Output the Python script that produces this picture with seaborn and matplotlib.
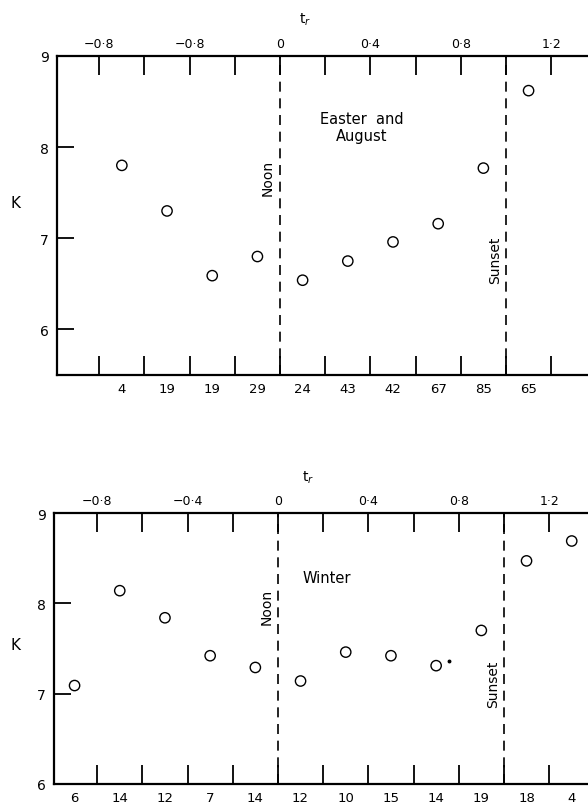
import matplotlib
matplotlib.use("Agg")
import matplotlib.pyplot as plt
import seaborn as sns
import pandas as pd

# --- data ---
# Easter and August
tr_summer = [-0.7, -0.5, -0.3, -0.1, 0.1, 0.3, 0.5, 0.7, 0.9, 1.1]
k_summer = [7.80, 7.30, 6.59, 6.80, 6.54, 6.75, 6.96, 7.16, 7.77, 8.62]
n_summer = ["4", "19", "19", "29", "24", "43", "42", "67", "85", "65"]

# Winter
tr_winter = [-0.9, -0.7, -0.5, -0.3, -0.1, 0.1, 0.3, 0.5, 0.7, 0.9, 1.1, 1.3]
k_winter = [7.09, 8.14, 7.84, 7.42, 7.29, 7.14, 7.46, 7.42, 7.31, 7.70, 8.47, 8.69]
n_winter = ["6", "14", "12", "7", "14", "12", "10", "15", "14", "19", "18", "4"]

grid_ticks = [-0.8, -0.6, -0.4, -0.2, 0.0, 0.2, 0.4, 0.6, 0.8, 1.0, 1.2]
top_labels_summer = ["\u22120\u00b78", "", "\u22120\u00b78", "", "0", "", "0\u00b74", "", "0\u00b78", "", "1\u00b72"]
top_labels_winter = ["\u22120\u00b78", "", "\u22120\u00b74", "", "0", "", "0\u00b74", "", "0\u00b78", "", "1\u00b72"]

NOON, SUNSET = 0.0, 1.0

sns.set_style("ticks")
plt.rcParams['font.family'] = ['DejaVu Sans']
plt.rcParams.update({'text.color': 'black', 'xtick.color': 'black', 'ytick.color': 'black',
                     'axes.edgecolor': 'black', 'xtick.labelcolor': 'black',
                     'ytick.labelcolor': 'black'})

fig = plt.figure(figsize=(5.88, 8.04), dpi=100)
W, H = 588.0, 804.0


def panel(rect, xlim, ylim, yticks, tr, k, counts, top_labels, title, title_xy, title_kw):
    ax = fig.add_axes(rect)
    df = pd.DataFrame({"tr": tr, "K": k})
    sns.scatterplot(data=df, x="tr", y="K", ax=ax, marker="o", s=55,
                    facecolor="none", edgecolor="black", linewidth=1.0)
    ax.set_xlim(*xlim)
    ax.set_ylim(*ylim)

    ax.axvline(NOON, color="black", ls=(0, (6, 4)), lw=1.2)
    ax.axvline(SUNSET, color="black", ls=(0, (6, 4)), lw=1.2)

    ax.set_xticks(grid_ticks, labels=top_labels)
    ax.set_xticks(tr, labels=counts, minor=True)
    ax.tick_params(axis="x", which="major", direction="in", length=14, width=1.3,
                   top=True, bottom=True, labeltop=True, labelbottom=False,
                   labelsize=9, pad=4)
    ax.tick_params(axis="x", which="minor", length=0, top=False, bottom=True,
                   labelbottom=True, labeltop=False, labelsize=9.5, pad=5)
    ax.set_yticks(yticks, labels=[str(v) for v in yticks])
    ax.tick_params(axis="y", direction="in", length=12, width=1.3, labelsize=10, pad=6)

    for side in ["left", "top", "bottom"]:
        ax.spines[side].set_linewidth(1.6)
    ax.spines["right"].set_visible(False)

    ax.set_xlabel("")
    ax.set_ylabel("")
    ax.text(title_xy[0], title_xy[1], title, fontsize=10.5, **title_kw)
    return ax


# top panel: Easter and August
ax1 = panel([57 / W, (H - 376) / H, 531 / W, 319 / H], (-0.987, 1.363), (5.5, 9.0),
            [6, 7, 8, 9], tr_summer, k_summer, n_summer, top_labels_summer,
            "Easter  and\nAugust", (0.36, 8.22),
            dict(ha="center", va="center", linespacing=1.1))
ax1.text(-0.053, 7.67, "Noon", rotation=90, ha="center", va="center", fontsize=10)
ax1.text(0.95, 6.77, "Sunset", rotation=90, ha="center", va="center", fontsize=10)

# bottom panel: Winter
ax2 = panel([54 / W, (H - 785) / H, 534 / W, 271 / H], (-0.991, 1.372), (6.0, 9.0),
            [6, 7, 8, 9], tr_winter, k_winter, n_winter, top_labels_winter,
            "Winter", (0.11, 8.29), dict(ha="left", va="center"))
ax2.plot([0.757], [7.36], marker="o", markersize=1.8, color="black", ls="none")
ax2.text(-0.05, 7.97, "Noon", rotation=90, ha="center", va="center", fontsize=10)
ax2.text(0.95, 7.11, "Sunset", rotation=90, ha="center", va="center", fontsize=10)

# axis labels
fig.text(16 / W, 1 - 203 / H, "K", fontsize=11, ha="center", va="center")
fig.text(16 / W, 1 - 645 / H, "K", fontsize=11, ha="center", va="center")
fig.text(305 / W, 1 - 20 / H, "t$_r$", fontsize=10, ha="center", va="center")
fig.text(308 / W, 1 - 478 / H, "t$_r$", fontsize=10, ha="center", va="center")

fig.savefig("out.png", dpi=100)
